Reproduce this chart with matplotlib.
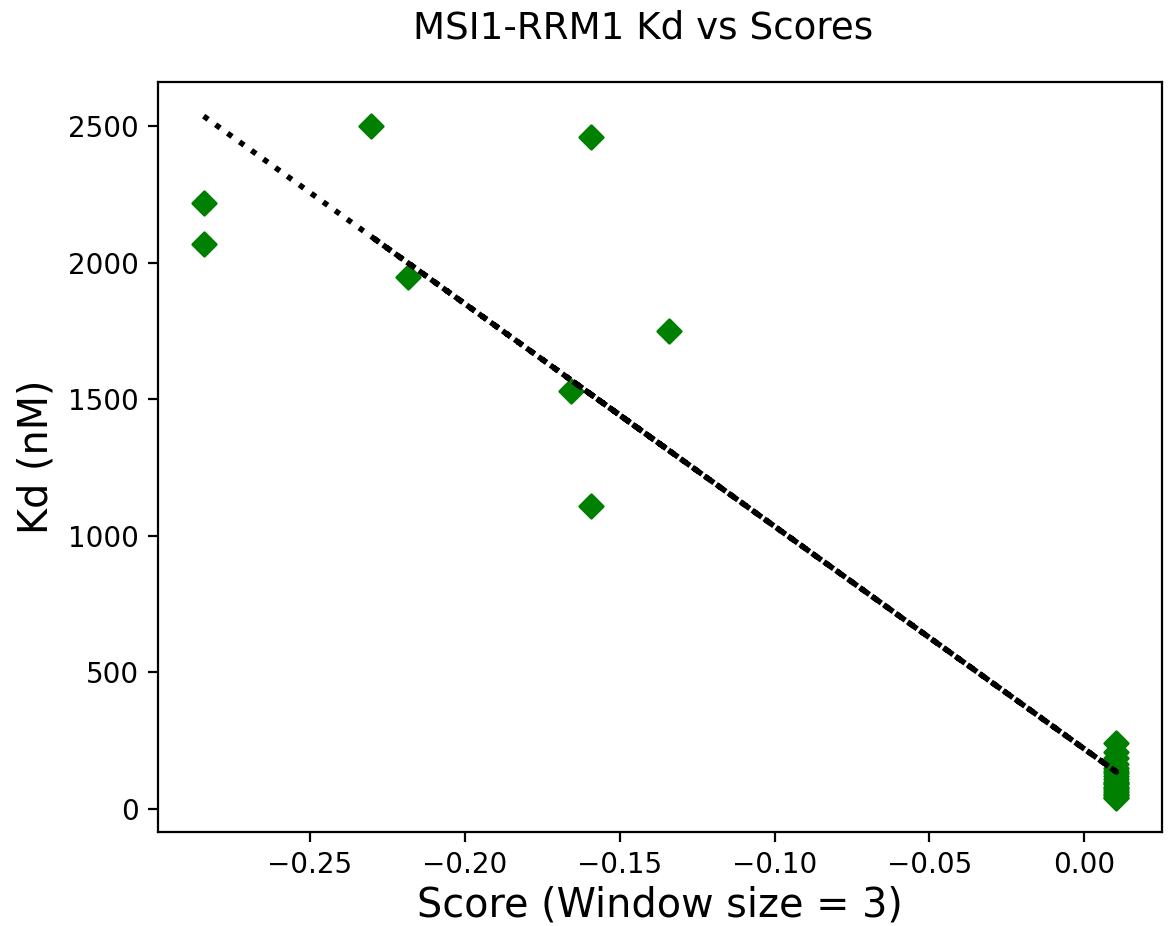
import numpy as np
import matplotlib
matplotlib.use("Agg")
import matplotlib.pyplot as plt

# Data (in plotting order)
scores = [-0.2842, -0.2842, 0.0103, 0.0103, 0.0103, 0.0103, 0.0103, 0.0103,
          0.0103, 0.0103, 0.0103, 0.0103, 0.0103, 0.0103, 0.0103, 0.0103,
          0.0103, 0.0103, 0.0103, 0.0103, 0.0103, -0.2303, -0.2181, -0.1593,
          -0.1342, -0.1658, -0.1593, 0.0103]
kd_nM = [2220, 2070, 240, 210, 185, 165, 150, 140,
         130, 120, 110, 100, 95, 90, 80, 75,
         70, 60, 55, 50, 45, 2500, 1950, 2460,
         1750, 1530, 1110, 40]

title = "MSI1-RRM1 Kd vs Scores"
xlabel = "Score (Window size = 3)"
ylabel = "Kd (nM)"

x = np.array(scores)
y = np.array(kd_nM)
slope, intercept = np.polyfit(x, y, 1)

fig = plt.figure(figsize=(5.84, 4.63), dpi=200)
ax = fig.add_axes([158/1168, 1 - 832/926, (1162-158)/1168, (832-82)/926])

ax.scatter(x, y, marker='D', color='green', zorder=2)
ax.plot(x, slope * x + intercept, 'k:', linewidth=2.0, zorder=3)

ax.set_xlabel(xlabel, fontsize=14.3, labelpad=2)
ax.set_ylabel(ylabel, fontsize=14.3)
ax.tick_params(labelsize=10)
fig.text(0.551, 1 - 38.3/926, title, ha='center', va='baseline', fontsize=13.4)

fig.savefig("out.png", dpi=200)
